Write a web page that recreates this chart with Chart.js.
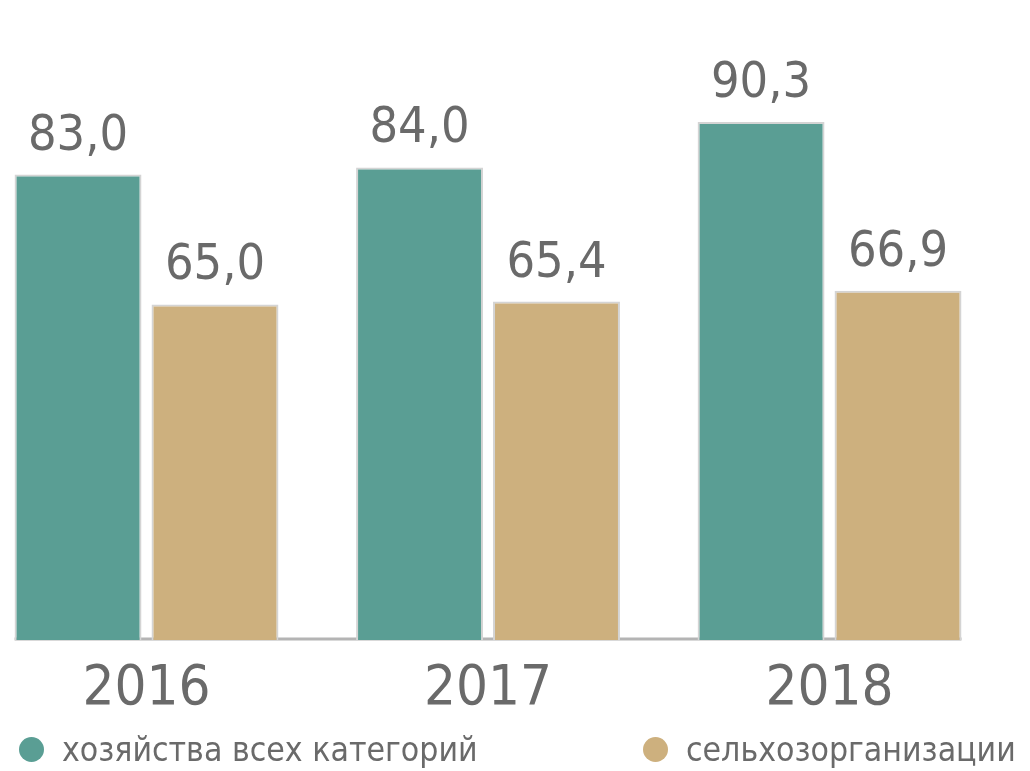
<!DOCTYPE html>
<html lang="ru">
<head>
<meta charset="utf-8">
<title>хозяйства всех категорий / сельхозорганизации</title>
<script src="https://cdn.jsdelivr.net/npm/chart.js@4/dist/chart.umd.min.js"></script>
<style>
  html, body { margin: 0; padding: 0; background: #fff; }
  #wrap { position: relative; width: 1030px; height: 771px; overflow: hidden; }
  #chart { position: absolute; left: 0; top: 0; }
  .legend-item {
    position: absolute; top: 727px; height: 44px;
    display: flex; align-items: center;
    font-family: "DejaVu Sans Condensed", "Liberation Sans Narrow", sans-serif;
    font-size: 33.5px; color: #6a6a6a; white-space: nowrap;
  }
  .legend-item .dot { width: 25px; height: 25px; border-radius: 50%; margin-right: 18px; }
</style>
</head>
<body>
<div id="wrap">
  <canvas id="chart" width="1030" height="771"></canvas>
  <div class="legend-item" style="left:19px"><span class="dot" style="background:#5a9e94"></span>хозяйства всех категорий</div>
  <div class="legend-item" style="left:643px"><span class="dot" style="background:#cdb07e"></span>сельхозорганизации</div>
</div>
<script>
// years on the x axis
const years = [2016, 2017, 2018];
// values as printed above the bars
const allFarms = [83.0, 84.0, 90.3];
const agriOrgs = [65.0, 65.4, 66.9];

const seriesNames = ['хозяйства всех категорий', 'сельхозорганизации'];
const seriesColors = ['#5a9e94', '#cdb07e'];

const FONT = '"DejaVu Sans Condensed", "Liberation Sans Narrow", sans-serif';

/**
 * base line only under the bar groups (first bar to last bar)
 */
const baseLine = {
    id: 'baseLine',
    beforeDatasetsDraw(chart) {
        const first = chart.getDatasetMeta(0).data[0];
        const lastMeta = chart.getDatasetMeta(chart.data.datasets.length - 1).data;
        const last = lastMeta[lastMeta.length - 1];
        const y = chart.chartArea.bottom;
        const ctx = chart.ctx;
        ctx.save();
        ctx.strokeStyle = '#b4b4b4';
        ctx.lineWidth = 3;
        ctx.beginPath();
        ctx.moveTo(first.x - first.width / 2, y - 1);
        ctx.lineTo(last.x + last.width / 2, y - 1);
        ctx.stroke();
        ctx.restore();
    }
};

/**
 * value labels above each bar, comma decimal
 */
const valueLabels = {
    id: 'valueLabels',
    afterDatasetsDraw(chart) {
        const ctx = chart.ctx;
        ctx.save();
        ctx.font = `50px ${FONT}`;
        ctx.fillStyle = '#6a6a6a';
        ctx.textAlign = 'center';
        ctx.textBaseline = 'alphabetic';
        chart.data.datasets.forEach((ds, di) => {
            chart.getDatasetMeta(di).data.forEach((bar, i) => {
                const txt = ds.data[i].y.toFixed(1).replace('.', ',');
                ctx.fillText(txt, bar.x, bar.y - 25);
            });
        });
        ctx.restore();
    }
};

function toPoints(values) {
    return values.map((v, i) => ({ x: years[i], y: v }));
}

new Chart(document.getElementById('chart'), {
    type: 'bar',
    data: {
        datasets: [allFarms, agriOrgs].map((vals, idx) => ({
            label: seriesNames[idx],
            data: toPoints(vals),
            backgroundColor: seriesColors[idx],
            borderColor: '#d4d4d4',
            borderWidth: 2,
            categoryPercentage: 0.802,
            barPercentage: 0.927
        }))
    },
    options: {
        responsive: false,
        animation: false,
        layout: { padding: 0 },
        plugins: {
            legend: { display: false },
            tooltip: { enabled: false }
        },
        scales: {
            x: {
                type: 'linear',
                offset: false,
                min: 2015.571,
                max: 2018.587,
                grid: { display: false, drawTicks: false },
                border: { display: false },
                afterBuildTicks(scale) {
                    scale.ticks = years.map(v => ({ value: v }));
                },
                afterFit(scale) { scale.height = 131; },
                ticks: {
                    padding: 16,
                    color: '#6a6a6a',
                    font: { family: FONT, size: 56, lineHeight: 1.2 },
                    callback: v => String(v)
                }
            },
            y: {
                display: false,
                min: 18.5,
                max: 107.2
            }
        }
    },
    plugins: [baseLine, valueLabels]
});
</script>
</body>
</html>
